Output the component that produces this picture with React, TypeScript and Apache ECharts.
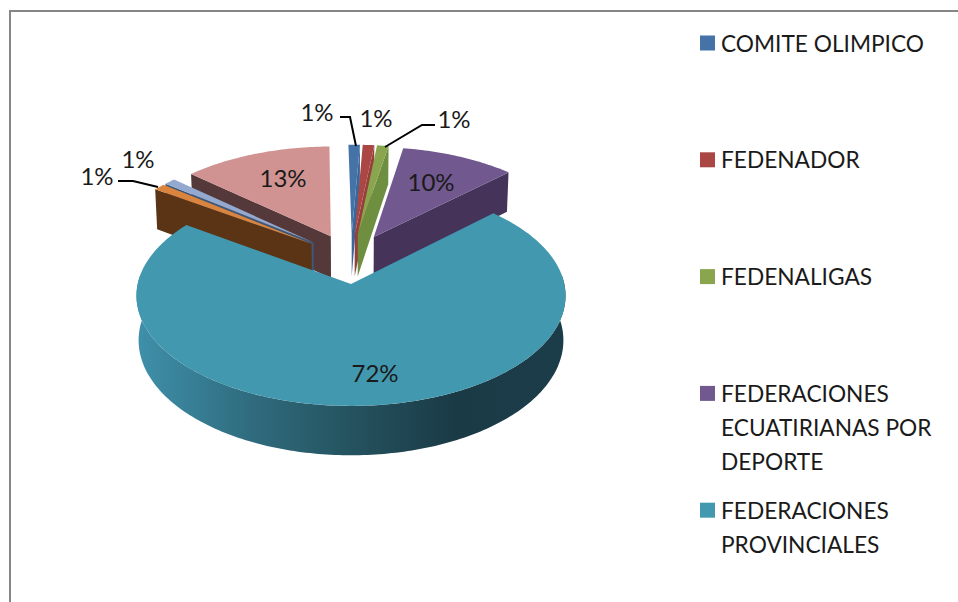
import React, { useEffect, useRef } from "react";
import * as echarts from "echarts";

const categories = [
  "COMITE OLIMPICO",
  "FEDENADOR",
  "FEDENALIGAS",
  "FEDERACIONES ECUATIRIANAS POR DEPORTE",
  "FEDERACIONES PROVINCIALES",
  "OTRAS 1",
  "OTRAS 2",
  "OTRAS 3",
];
const shareValues = [1, 1, 1, 10, 72, 1, 1, 13];
const drawOrder = [7, 6, 5, 0, 1, 2, 3, 4];
const faceColors = ["#4573a7", "#aa4643", "#89a54e", "#71588f", "#4198af", "#db843d", "#93a9cf", "#d19392"];
const sideColors = ["#3a6799", "#963f3c", "#6f8f40", "#45335a", "#1b3c48", "#5a3414", "#3f5878", "#54383a"];

const legendLines = [
  ["COMITE OLIMPICO"],
  ["FEDENADOR"],
  ["FEDENALIGAS"],
  ["FEDERACIONES", "ECUATIRIANAS POR", "DEPORTE"],
  ["FEDERACIONES", "PROVINCIALES"],
];
const labelCenters = [
  [317, 111], [376, 117], [454, 118], [431, 181], [375, 372], [97, 175], [138, 158], [283, 177],
];
const leaders = [
  [[340, 117], [350, 117], [356, 146]],
  [[435, 125], [422, 125], [385, 147]],
  [[118, 181], [133, 181], [158, 187]],
];

const FONT = "Lato";
const CX = 351, Y0 = 258.5, R = 208, EXPLODE = 50, TILT = 0.498, DEPTH = 43, PERSP = 2000, ROT = -1;
const rad = (d: number) => (d * Math.PI) / 180;

function project(X: number, Y: number, low: boolean): number[] {
  const s = 1 / (1 + Y / PERSP);
  return [CX + s * X * (low ? 0.99 : 1), Y0 - s * (TILT * Y - (low ? DEPTH : 0))];
}

function renderSlice(_params: any, api: any) {
  const idx = api.value(0) as number;
  const total = shareValues.reduce((a, b) => a + b, 0);
  const before = shareValues.slice(0, idx).reduce((a, b) => a + b, 0);
  const a0 = ROT + (before / total) * 360;
  const a1 = ROT + ((before + (api.value(1) as number)) / total) * 360;
  const mid = (a0 + a1) / 2;
  // the slice holding due south is pulled straight toward the viewer
  const ox = a0 < 180 && a1 > 180 ? 0 : EXPLODE * Math.sin(rad(mid));
  const oy = EXPLODE * Math.cos(rad(mid));
  const rim = (a: number, low: boolean) =>
    project(ox + R * Math.sin(rad(a)), oy + R * Math.cos(rad(a)), low);
  const apex = (low: boolean) => project(ox, oy, low);
  const children: any[] = [];

  // straight wall facing the viewer
  const wallAngle = mid < 180 ? a1 : a0;
  if (idx !== 4) {
    children.push({
      type: "polygon",
      shape: { points: [apex(false), rim(wallAngle, false), rim(wallAngle, true), apex(true)] },
      style: { fill: sideColors[idx] },
    });
  }

  // curved front wall
  const from = Math.max(a0, 85);
  const to = Math.min(a1, 275);
  if (to > from) {
    const top: number[][] = [];
    const bottom: number[][] = [];
    for (let a = from; a <= to; a += 1) {
      top.push(rim(a, false));
      bottom.unshift(rim(a, true));
    }
    children.push({
      type: "polygon",
      shape: { points: top.concat(bottom) },
      style: {
        fill: new echarts.graphic.LinearGradient(0, 0, 1, 0, [
          { offset: 0, color: "#3f90aa" },
          { offset: 0.28, color: "#2f6a7c" },
          { offset: 0.5, color: "#24535f" },
          { offset: 0.74, color: "#1a3a46" },
          { offset: 1, color: "#1b3d49" },
        ]),
      },
    });
  }

  // top face
  const face: number[][] = [apex(false)];
  const steps = Math.max(2, Math.ceil(a1 - a0));
  for (let k = 0; k <= steps; k++) face.push(rim(a0 + ((a1 - a0) * k) / steps, false));
  children.push({ type: "polygon", shape: { points: face }, style: { fill: faceColors[idx] } });

  return { type: "group", children };
}

export default function App() {
  const ref = useRef<HTMLDivElement>(null);
  useEffect(() => {
    document.body.style.margin = "0";
    const chart = echarts.init(ref.current!, undefined, { renderer: "svg" });
    const graphic: any[] = [
      {
        type: "polyline",
        z: 5,
        shape: { points: [[10, 602], [10, 11], [958, 11]] },
        style: { stroke: "#868686", lineWidth: 2, fill: "none" },
      },
    ];
    leaders.forEach((pts) =>
      graphic.push({
        type: "polyline",
        z: 20,
        shape: { points: pts },
        style: { stroke: "#000", lineWidth: 2, fill: "none" },
      })
    );
    shareValues.forEach((v, i) =>
      graphic.push({
        type: "text",
        z: 20,
        x: labelCenters[i][0],
        y: labelCenters[i][1],
        style: {
          text: `${v}%`,
          font: `24px ${FONT}`,
          fill: "#1a1a1a",
          align: "center",
          verticalAlign: "middle",
        },
      })
    );
    legendLines.forEach((lines, i) => {
      const y = 43 + i * 116.8;
      graphic.push({
        type: "rect",
        z: 20,
        shape: { x: 700, y: y - 7.5, width: 15, height: 15 },
        style: { fill: faceColors[i] },
      });
      lines.forEach((line, j) =>
        graphic.push({
          type: "text",
          z: 20,
          x: 721,
          y: y + j * 34,
          style: {
            text: line,
            font: `22.7px ${FONT}`,
            fill: "#1a1a1a",
            align: "left",
            verticalAlign: "middle",
          },
        })
      );
    });
    chart.setOption({
      animation: false,
      backgroundColor: "#fff",
      graphic,
      series: [
        {
          type: "custom",
          coordinateSystem: "none",
          silent: true,
          renderItem: renderSlice,
          data: drawOrder.map((i) => ({ name: categories[i], value: [i, shareValues[i]] })),
        },
      ],
    });
    return () => chart.dispose();
  }, []);
  return <div ref={ref} style={{ position: "absolute", left: 0, top: 0, width: 958, height: 602 }} />;
}
